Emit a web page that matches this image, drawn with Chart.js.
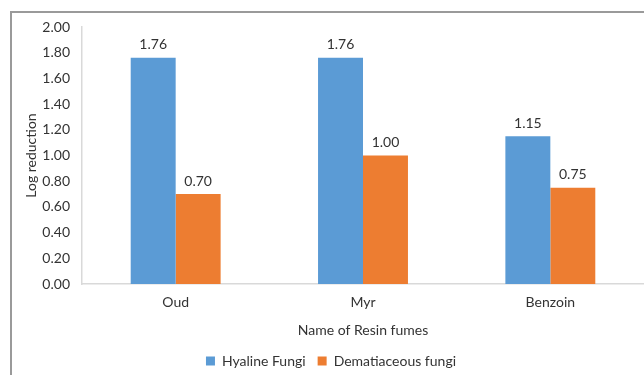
<!DOCTYPE html>
<html>
<head>
<meta charset="utf-8">
<script src="https://cdn.jsdelivr.net/npm/chart.js@4"></script>
<style>
  html, body { margin: 0; padding: 0; background: #fff; }
  #wrap { position: relative; width: 644px; height: 375px; overflow: hidden; }
  #frame {
    position: absolute; left: 10px; top: 11px; width: 700px; height: 400px;
    border-left: 2px solid #9a9a9a; border-top: 2px solid #9a9a9a;
  }
  canvas { position: absolute; left: 0; top: 0; }
</style>
</head>
<body>
<div id="wrap">
  <div id="frame"></div>
  <canvas id="chart" width="644" height="375"></canvas>
</div>
<script>
const resins = ["Oud", "Myr", "Benzoin"];
const hyalineFungi = [1.76, 1.76, 1.15];
const dematiaceousFungi = [0.70, 1.00, 0.75];

const font = "Lato, 'Open Sans', sans-serif";
const textColor = "#333333";

// write the value above every bar
const barValues = {
  id: "barValues",
  afterDatasetsDraw(chart) {
    const ctx = chart.ctx;
    ctx.save();
    ctx.font = "14px " + font;
    ctx.fillStyle = textColor;
    ctx.textAlign = "center";
    ctx.textBaseline = "middle";
    chart.data.datasets.forEach(function (ds, d) {
      chart.getDatasetMeta(d).data.forEach(function (bar, i) {
        ctx.fillText(ds.data[i].toFixed(2), bar.x, bar.y - 13);
      });
    });
    ctx.restore();
  },
};

new Chart(document.getElementById("chart"), {
  type: "bar",
  data: {
    labels: resins,
    datasets: [
      {
        label: "Hyaline Fungi",
        data: hyalineFungi,
        backgroundColor: "#5b9bd5",
      },
      {
        label: "Dematiaceous fungi",
        data: dematiaceousFungi,
        backgroundColor: "#ed7d31",
      },
    ],
  },
  options: {
    responsive: false,
    animation: false,
    layout: { padding: { top: 27, left: 18, right: 0, bottom: -3 } },
    datasets: {
      bar: { categoryPercentage: 0.48, barPercentage: 1.0 },
    },
    plugins: {
      legend: {
        position: "bottom",
        labels: {
          boxWidth: 9,
          boxHeight: 9,
          padding: 12,
          color: textColor,
          font: { family: font, size: 14 },
        },
      },
      tooltip: { enabled: false },
    },
    scales: {
      x: {
        grid: { display: false, drawTicks: false },
        border: { display: true, color: "#d9d9d9", width: 1.5 },
        ticks: { color: textColor, font: { family: font, size: 14 }, padding: 10 },
        title: {
          display: true,
          text: "Name of Resin fumes",
          color: textColor,
          font: { family: font, size: 14 },
          padding: { top: 2, bottom: 3 },
        },
        afterFit: function (scale) { scale.height = 58; },
      },
      y: {
        min: 0,
        max: 2,
        grid: { display: false, drawTicks: false },
        border: { display: true, color: "#d9d9d9", width: 1.5 },
        ticks: {
          stepSize: 0.2,
          color: textColor,
          font: { family: font, size: 14 },
          padding: 12,
          callback: function (v) { return v.toFixed(2); },
        },
        title: {
          display: true,
          text: "Log reduction",
          color: textColor,
          font: { family: font, size: 14 },
          padding: { top: 5, bottom: 6 },
        },
        afterFit: function (scale) { scale.width = 64; },
      },
    },
  },
  plugins: [barValues],
});
</script>
</body>
</html>
